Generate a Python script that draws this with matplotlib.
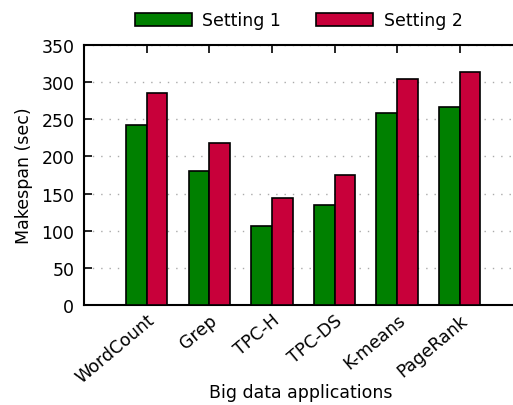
import numpy as np
import matplotlib
matplotlib.use("Agg")
import matplotlib.pyplot as plt

apps = ["WordCount", "Grep", "TPC-H", "TPC-DS", "K-means", "PageRank"]
setting1 = [242, 181, 106, 135, 258, 267]
setting2 = [285, 218, 144, 175, 304, 314]
yticks = [0, 50, 100, 150, 200, 250, 300, 350]

plt.rcParams['font.family'] = ['DejaVu Sans']
plt.rcParams['font.size'] = 12.5

fig = plt.figure(figsize=(5.13, 4.06), dpi=100)
ax = fig.add_axes([0.1637, 0.2463, 0.8363, 0.6404])

x = np.arange(len(apps))
w = 0.33
ax.bar(x - w / 2, setting1, w, color="#008000", edgecolor="black", linewidth=1.2,
       label="Setting 1", zorder=3)
ax.bar(x + w / 2, setting2, w, color="#C8003A", edgecolor="black", linewidth=1.2,
       label="Setting 2", zorder=3)

ax.set_xlim(-1, 5.85)
ax.set_ylim(0, 350)
ax.set_yticks(yticks)
ax.set_xticks(x)
ax.set_xticklabels(apps, rotation=40, ha="right", rotation_mode="anchor")
ax.tick_params(axis="y", direction="in", length=6, width=1.2, pad=7)
ax.tick_params(axis="x", direction="in", length=6, width=1.2, bottom=False, top=True, pad=4)
ax.yaxis.grid(True, linestyle=(0, (1, 5)), color="#aaaaaa", linewidth=1, zorder=0)

for s in ["left", "bottom", "top"]:
    ax.spines[s].set_linewidth(1.5)
ax.spines["right"].set_visible(False)

ax.set_ylabel("Makespan (sec)", labelpad=6)
ax.set_xlabel("Big data applications")
ax.xaxis.set_label_coords(0.505, -0.3)

ax.legend(loc="lower center", bbox_to_anchor=(0.5, 1.0), ncol=2, frameon=False,
          handlelength=3.3, handleheight=0.8, columnspacing=2.0, handletextpad=0.6,
          borderaxespad=0.5)

fig.savefig("out.png", dpi=100)
